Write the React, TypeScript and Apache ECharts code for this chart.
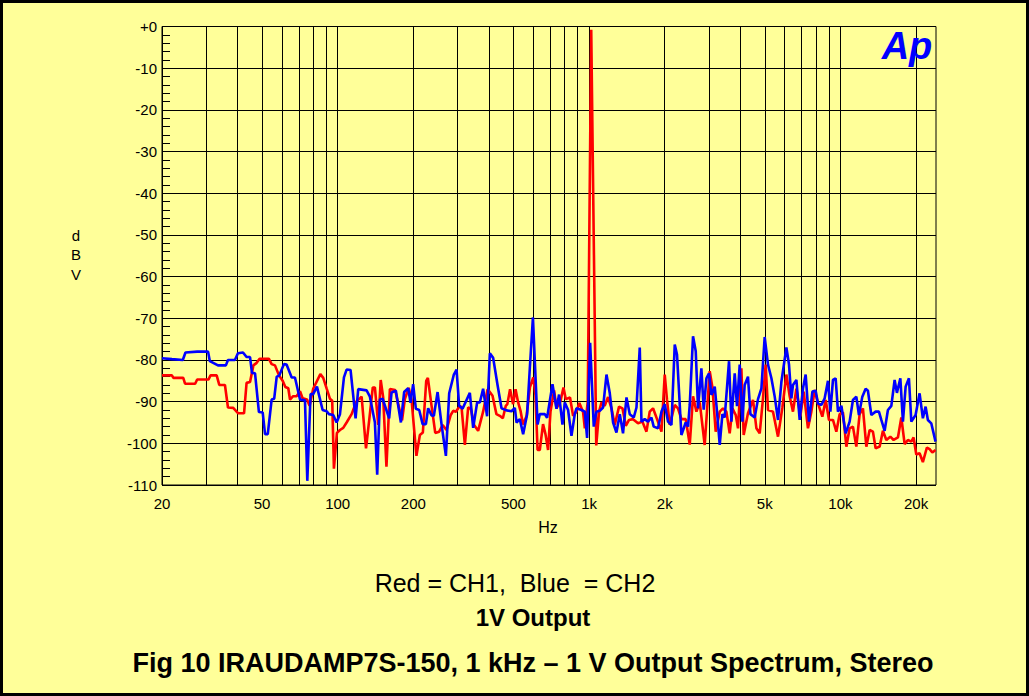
import React, { useEffect, useRef } from "react";
import * as echarts from "echarts";

const FONT = "'Liberation Sans', Arial, Helvetica, sans-serif";

// Y axis ticks
const yTickValues = [0, -10, -20, -30, -40, -50, -60, -70, -80, -90, -100, -110];
const yTickLabels = ["+0", "-10", "-20", "-30", "-40", "-50", "-60", "-70", "-80", "-90", "-100", "-110"];

// X axis labelled ticks and log grid lines (Hz)
const xTickValues = [20, 50, 100, 200, 500, 1000, 2000, 5000, 10000, 20000];
const xTickLabels = ["20", "50", "100", "200", "500", "1k", "2k", "5k", "10k", "20k"];
const xGridValues = [
  20, 30, 40, 50, 60, 70, 80, 90,
  100, 200, 300, 400, 500, 600, 700, 800, 900,
  1000, 2000, 3000, 4000, 5000, 6000, 7000, 8000, 9000,
  10000, 20000,
];

// CH1 (red): [Hz, dBV]
const ch1Spectrum = [
  [20, -83.7], [21.9, -83.7], [22.2, -84.3], [24.3, -84.3], [24.7, -85.7], [27.1, -85.7], [27.6, -84.7], [30.6, -84.7],
  [31.2, -83.7], [33.0, -83.7], [33.8, -86.0], [35.6, -86.0], [36.6, -91.4], [38.4, -91.5], [40.2, -92.8], [42.4, -92.8],
  [43.4, -85.5], [44.8, -85.3], [46.2, -81.3], [47.6, -80.7], [48.9, -79.7], [53.2, -79.7], [54.6, -81.0], [56.3, -81.3],
  [58.4, -83.7], [60.4, -85.0], [61.9, -86.5], [63.6, -86.8], [64.6, -89.5], [66.5, -88.7], [68.6, -88.7], [70.8, -87.5],
  [72.5, -89.2], [75.5, -89.5], [77.3, -91.0], [79.9, -86.9], [85.3, -83.4], [87.6, -84.3], [90.4, -86.9], [93.1, -89.3],
  [95.1, -89.8], [96.6, -106.1], [99.3, -97.5], [102.1, -96.8], [105.2, -96.3], [108.5, -95.0], [113.6, -93.0], [118.6, -90.0],
  [124.5, -88.8], [129.6, -101.2], [133.5, -94.4], [137.9, -86.6], [140.6, -86.6], [145, -95.6], [148.3, -84.8], [151.7, -89.0],
  [156.3, -105.6], [161.3, -87.0], [169.3, -87.2], [174.1, -90.6], [180.3, -94.5], [185.0, -89.4], [191.6, -86.7], [196.7, -89.5],
  [205.7, -103.0], [212.3, -98.0], [218.2, -97.4], [225, -85.0], [228.4, -84.3], [236.3, -91.0], [244.4, -97.5], [253.3, -97.2],
  [261.5, -95.6], [271, -96.8], [281.6, -93.2], [288, -92.2], [295.2, -92.4], [306.4, -91.0], [311, -91.4], [320.6, -100.4],
  [330.4, -91.4], [338.6, -91.7], [348.8, -95.6], [362, -97.0], [378.9, -92.4], [394.8, -87.0], [413, -88.6], [428, -93.0],
  [441.4, -93.4], [454, -94.0], [466.4, -91.0], [473, -90.6], [485, -87.0], [498.6, -90.6], [510, -87.0], [522.2, -90.2],
  [533.8, -92.2], [546, -95.5], [563.8, -93.5], [582, -86.5], [600, -84.2], [612, -88.4], [624, -101.6], [636.8, -101.6],
  [656, -95.4], [670.8, -97.8], [687, -101.6], [702.4, -92.4], [726, -87.3], [742, -91.6], [769.6, -89.9], [791, -86.6],
  [808.2, -89.4], [840, -89.0], [863.8, -93.4], [891, -92.4], [915, -90.3], [946.6, -92.5], [962, -96.4], [988, -90.0],
  [1020, -0.8], [1068, -100.5], [1096, -92.4], [1120, -90.2], [1154, -91.0], [1190, -88.9], [1228, -91.6], [1265, -95.6],
  [1316, -91.2], [1358, -91.6], [1400, -95.8], [1442, -94.4], [1496, -94.2], [1566, -95.2], [1631, -94.8], [1692, -97.2],
  [1743, -92.4], [1797, -91.6], [1864, -94.2], [1941, -97.2], [2000, -83.5], [2042, -89.6], [2094, -95.6], [2192, -90.8],
  [2258, -91.6], [2330, -94.2], [2424, -94.2], [2515, -100.3], [2592, -88.7], [2674, -92.4], [2756, -90.2], [2884, -100.4],
  [3020, -82.7], [3096, -86.6], [3190, -97.2], [3310, -92.4], [3410, -91.6], [3518, -92.4], [3626, -97.6], [3718, -91.6],
  [3832, -93.2], [3914, -96.4], [4036, -82.0], [4122, -98.0], [4288, -92.8], [4490, -89.6], [4632, -96.4], [4774, -97.6],
  [4920, -89.2], [5042, -81.1], [5150, -92.0], [5392, -92.4], [5645, -98.4], [5876, -91.4], [6096, -83.5], [6282, -88.7],
  [6475, -92.4], [6680, -86.9], [6928, -93.5], [7142, -87.6], [7428, -96.4], [7662, -92.4], [7898, -87.2], [8138, -90.4],
  [8472, -93.6], [8736, -89.6], [9004, -94.4], [9340, -94.4], [9632, -97.2], [9928, -93.0], [10232, -92.6], [10558, -100.8],
  [10880, -96.4], [11214, -96.0], [11568, -100.8], [11922, -93.0], [12288, -91.6], [12678, -100.8], [13068, -96.8], [13468, -97.2],
  [13804, -101.2], [14318, -100.8], [14758, -97.0], [15228, -99.2], [15792, -98.4], [16278, -99.2], [16934, -98.6], [17468, -93.8],
  [18008, -100.2], [18554, -99.2], [19144, -99.6], [19544, -98.6], [20036, -102.7], [20650, -102.4], [21280, -104.5], [22080, -101.0],
  [22640, -101.4], [23200, -102.2], [23900, -101.6],
];

// CH2 (blue): [Hz, dBV]
const ch2Spectrum = [
  [20, -79.6], [21.9, -79.8], [24.2, -80.0], [24.8, -78.2], [27.6, -78.0], [30.5, -78.0], [31.0, -80.3], [33.4, -81.3],
  [35.9, -81.3], [36.6, -80.0], [39.0, -80.0], [40.1, -78.4], [42.0, -78.2], [43.4, -79.3], [44.8, -79.3], [45.6, -83.1],
  [46.9, -83.2], [48.6, -92.5], [50.3, -92.6], [51.4, -97.8], [52.7, -97.8], [54.6, -89.5], [55.9, -89.3], [57.2, -84.0],
  [58.5, -83.8], [61.1, -81.0], [62.6, -81.1], [65.6, -84.2], [67.6, -84.2], [70.8, -89.5], [74.1, -89.7], [75.7, -109.0],
  [78.0, -88.2], [79.9, -88.2], [82.7, -86.4], [87.1, -92.0], [90.4, -92.3], [92.3, -93.0], [96.0, -93.2], [99.0, -95.0],
  [102.1, -93.0], [105.9, -84.2], [108.5, -82.3], [112.5, -82.4], [117.8, -94.0], [120.7, -87.0], [130.3, -87.3], [134.3, -88.8],
  [140.6, -95.0], [143.6, -107.5], [147.2, -89.5], [150.9, -89.3], [160.2, -94.0], [163.8, -87.8], [170.4, -87.4], [178.4, -95.0],
  [183.8, -87.7], [190.7, -86.8], [194.9, -90.3], [199.6, -85.8], [204.6, -91.7], [211, -92.0], [217.7, -95.4], [224.3, -95.4],
  [229, -91.6], [236.3, -93.3], [241.3, -93.4], [249.7, -87.7], [259, -95.5], [269.4, -103.0], [277.7, -88.0], [289.8, -83.5],
  [297.1, -82.3], [304.2, -91.0], [313.8, -91.7], [335.5, -87.9], [345.9, -96.3], [358.7, -90.2], [367.7, -90.2], [378.9, -86.9],
  [393, -93.5], [403, -78.4], [415.4, -79.5], [432.4, -86.0], [448.5, -91.6], [469.6, -92.1], [491.7, -92.3], [506.7, -91.5],
  [514.6, -95.0], [530.4, -94.2], [546.7, -97.8], [567, -93.0], [581.2, -82.0], [598, -69.8], [624, -95.5], [636.8, -93.0],
  [666.6, -93.0], [680.8, -93.9], [715.4, -85.8], [742, -91.7], [759.8, -88.3], [783.8, -95.5], [800.6, -90.2], [825.2, -92.0],
  [851.2, -98.2], [877.4, -93.0], [891, -91.6], [933, -92.0], [961.6, -92.4], [982.2, -98.7], [1010, -75.9], [1044, -96.0],
  [1070, -92.4], [1103, -92.2], [1137, -91.4], [1173, -83.5], [1209, -88.0], [1246, -95.0], [1285, -97.4], [1325, -93.0],
  [1365, -97.6], [1409, -89.0], [1452, -93.0], [1506, -93.8], [1544, -91.4], [1591, -77.0], [1616, -94.8], [1665, -94.2],
  [1716, -94.8], [1771, -93.8], [1808, -96.0], [1881, -96.4], [1941, -92.4], [2000, -90.6], [2062, -94.8], [2127, -95.6],
  [2192, -76.3], [2238, -78.7], [2330, -98.0], [2424, -95.0], [2476, -96.0], [2515, -90.8], [2592, -74.3], [2657, -77.9],
  [2713, -91.6], [2798, -82.0], [2858, -91.9], [2930, -84.4], [3000, -83.2], [3068, -88.4], [3162, -86.4], [3229, -92.4],
  [3310, -100.4], [3392, -93.0], [3464, -93.8], [3604, -80.3], [3684, -94.8], [3797, -83.2], [3878, -91.1], [3975, -81.1],
  [4074, -94.8], [4160, -86.0], [4288, -84.0], [4384, -93.0], [4560, -93.8], [4700, -89.4], [4849, -86.8], [4996, -74.5],
  [5150, -81.1], [5314, -84.4], [5477, -88.8], [5645, -94.4], [5822, -85.3], [6096, -77.0], [6243, -81.1], [6382, -89.2],
  [6475, -86.0], [6680, -84.8], [6885, -94.4], [7096, -86.8], [7273, -83.5], [7498, -94.8], [7735, -87.6], [7970, -87.4],
  [8138, -90.4], [8398, -90.8], [8656, -89.2], [8922, -85.0], [9120, -92.4], [9340, -84.8], [9572, -84.4], [9778, -92.4],
  [10086, -91.0], [10490, -97.6], [10880, -94.8], [11214, -89.6], [11568, -88.8], [11848, -93.2], [12222, -88.8], [12598, -86.9],
  [12864, -87.4], [13272, -93.2], [13804, -92.4], [14228, -92.4], [14544, -94.4], [14992, -97.0], [15450, -92.0], [15940, -91.0],
  [16428, -84.8], [16780, -87.9], [17312, -84.4], [17728, -94.8], [18174, -86.4], [18730, -84.4], [19144, -94.8], [19908, -93.2],
  [20650, -88.0], [21280, -94.0], [21820, -91.2], [22280, -94.4], [22980, -95.2], [23900, -99.6],
];

const BG = "#FFFF99";

export default function App() {
  const ref = useRef<HTMLDivElement>(null);

  useEffect(() => {
    if (!ref.current) return;
    const chart = echarts.init(ref.current, undefined, { renderer: "svg" });

    const txt = (text: string, x: number, y: number, size: number, extra: any = {}) => ({
      type: "text",
      silent: true,
      style: {
        text,
        x,
        y,
        font: `${extra.style || "normal"} ${extra.weight || "normal"} ${size}px ${FONT}`,
        fill: extra.fill || "#000",
        textAlign: "center",
        textVerticalAlign: "middle",
        align: "center",
        verticalAlign: "middle",
      },
      z: 10,
    });

    const option: any = {
      animation: false,
      backgroundColor: BG,
      grid: {
        left: 162,
        right: 93,
        top: 26.5,
        bottom: 211,
        show: true,
        borderColor: "#000",
        borderWidth: 1,
        backgroundColor: "transparent",
      },
      xAxis: {
        type: "log",
        logBase: 10,
        min: 20,
        max: 24000,
        axisLine: { show: false },
        axisTick: { show: false },
        axisLabel: { show: false },
        splitLine: { show: false },
        minorSplitLine: { show: false },
      },
      yAxis: {
        type: "value",
        min: -110,
        max: 0,
        interval: 10,
        axisLine: { show: true, lineStyle: { color: "#000", width: 1 } },
        axisTick: { show: true, inside: true, length: 10, lineStyle: { color: "#000" } },
        minorTick: { show: true, splitNumber: 5, length: 8, lineStyle: { color: "#000" } },
        splitLine: { show: true, lineStyle: { color: "#000", width: 1 } },
        axisLabel: {
          color: "#000",
          fontSize: 15,
          fontFamily: FONT,
          margin: 5,
          formatter: (v: number) => {
            const i = yTickValues.indexOf(v);
            return i >= 0 ? yTickLabels[i] : "";
          },
        },
      },
      series: [
        {
          name: "grid",
          type: "line",
          data: [],
          silent: true,
          markLine: {
            silent: true,
            z: 1,
            symbol: ["none", "none"],
            animation: false,
            lineStyle: { color: "#000", width: 1, type: "solid" },
            emphasis: { disabled: true },
            label: { show: false },
            data: xGridValues.map((v) => {
              const i = xTickValues.indexOf(v);
              return {
                xAxis: v,
                label:
                  i >= 0
                    ? {
                        show: true,
                        position: "start",
                        distance: 11,
                        formatter: xTickLabels[i],
                        color: "#000",
                        fontSize: 15,
                        fontFamily: FONT,
                      }
                    : { show: false },
              };
            }),
          },
        },
        {
          name: "CH1",
          type: "line",
          data: ch1Spectrum,
          showSymbol: false,
          symbol: "none",
          silent: true,
          z: 3,
          lineStyle: { color: "#FF0000", width: 2.6 },
        },
        {
          name: "CH2",
          type: "line",
          data: ch2Spectrum,
          showSymbol: false,
          symbol: "none",
          silent: true,
          z: 4,
          lineStyle: { color: "#0000FF", width: 2.6 },
        },
      ],
      graphic: [
        txt("d", 76, 235, 15),
        txt("B", 76, 254, 15),
        txt("V", 76, 274, 15),
        txt("Hz", 548, 527, 16),
        txt("Ap", 907, 46, 38, { style: "italic", weight: "bold", fill: "#0000FF" }),
        txt("Red = CH1,  Blue  = CH2", 515, 583, 25),
        txt("1V Output", 533, 617, 24, { weight: "bold" }),
        txt("Fig 10 IRAUDAMP7S-150, 1 kHz \u2013 1 V Output Spectrum, Stereo", 533, 663, 27, { weight: "bold" }),
        {
          type: "rect",
          silent: true,
          z: 20,
          shape: { x: 1.5, y: 1.5, width: 1026, height: 693 },
          style: { fill: "none", stroke: "#000", lineWidth: 3 },
        },
      ],
    };

    chart.setOption(option);
    return () => chart.dispose();
  }, []);

  return (
    <div
      ref={ref}
      style={{ position: "absolute", left: 0, top: 0, width: 1029, height: 696 }}
    />
  );
}
